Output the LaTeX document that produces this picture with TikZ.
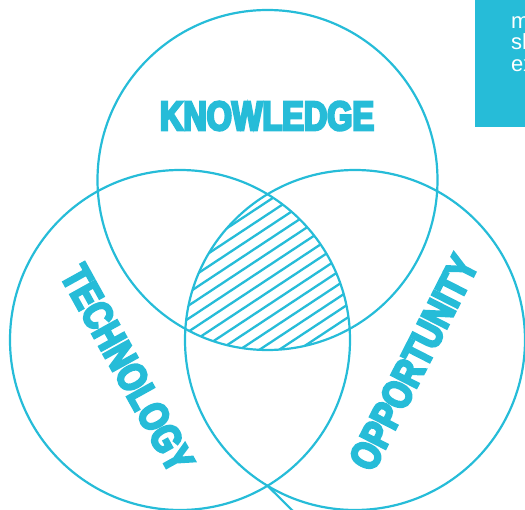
\documentclass[tikz,border=0pt]{standalone}
\usepackage{fontspec}
\newfontfamily\heavy[FakeStretch=0.79,FakeBold=6]{Liberation Sans}
\newfontfamily\bodyfont{Liberation Sans}
\definecolor{vc}{RGB}{38,188,216}
\begin{document}
\begin{tikzpicture}[x=1pt,y=-1pt]
\tikzset{
  ring/.style={draw=vc,line width=2.2pt},
  hatchline/.style={draw=vc,line width=2.3pt},
  word/.style={text=vc,font=\heavy\bfseries\fontsize{41}{41}\selectfont,inner sep=0pt},
  boxtext/.style={text=white,font=\bodyfont\fontsize{22}{22}\selectfont,inner sep=0pt,anchor=base west}
}
\useasboundingbox (0,0) rectangle (525,510);
\clip (0,0) rectangle (525,510);
\coordinate (K) at (267.5,180);
\coordinate (T) at (180,340);
\coordinate (O) at (355,340);
\coordinate (cross) at (267.5,485.75);
\coordinate (tail) at (300,518);
% hatched common region
\begin{scope}
  \clip (K) circle (170);
  \clip (T) circle (170);
  \clip (O) circle (170);
  \foreach \b in {300,313,...,600}
    \draw[hatchline] (150,\b-0.66*150) -- (380,\b-0.66*380);
\end{scope}
% circles
\draw[ring] (K) circle (170);
\draw[ring] (T) circle (170);
\draw[ring] (O) circle (170);
\draw[ring] (cross) -- (tail);
% words
\node[word] (know) at (267,116) {KNOWLEDGE};
\node[word,rotate=-61] (tech) at (127.5,368.5) {TECHNOLOGY};
\node[word,rotate=63] (opp) at (413.5,362.5) {OPPORTUNITY};
% top-right box
\fill[vc] (475,0) rectangle (525,127);
\node[boxtext] (l1) at (511,28.5) {m};
\node[boxtext] (l2) at (511,50) {sh};
\node[boxtext] (l3) at (511,71.5) {ex};
\end{tikzpicture}
\end{document}
